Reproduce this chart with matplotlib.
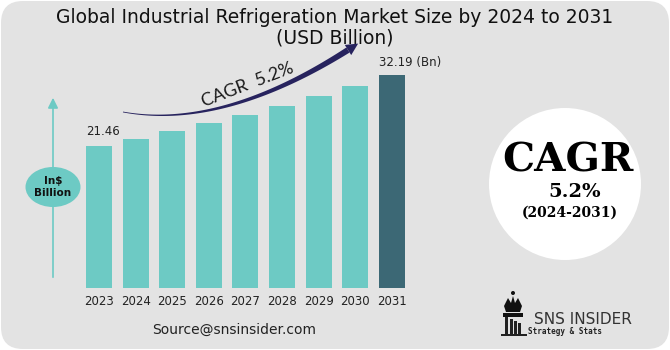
import numpy as np
import matplotlib
matplotlib.use("Agg")
import matplotlib.pyplot as plt
from matplotlib.patches import FancyBboxPatch, Circle, Ellipse, Polygon, Rectangle

# ---------------- data ----------------
years = ["2023", "2024", "2025", "2026", "2027", "2028", "2029", "2030", "2031"]
values = [21.46, 22.55, 23.76, 24.97, 26.23, 27.59, 29.06, 30.53, 32.19]
first_label = "21.46"
last_label = "32.19 (Bn)"
title = "Global Industrial Refrigeration Market Size by 2024 to 2031\n(USD Billion)"
cagr_text = "CAGR  5.2%"

W, H = 670, 350
fig = plt.figure(figsize=(W / 100, H / 100), dpi=100)
fig.patch.set_facecolor("white")

# background axes in pixel coordinates (y downwards)
bg = fig.add_axes([0, 0, 1, 1], zorder=0)
bg.set_xlim(0, W)
bg.set_ylim(H, 0)
bg.axis("off")
bg.add_patch(FancyBboxPatch((1, 1), W - 2, H - 2,
                            boxstyle="round,pad=0,rounding_size=22",
                            fc="#e3e3e3", ec="none"))

# ---------------- bars ----------------
step = 36.6
left_px = 99 - 0.5 * step
bottom_px = 288
ymax = 35
scale = 6.607
ax = fig.add_axes([left_px / W, (H - bottom_px) / H, 9 * step / W, ymax * scale / H], zorder=2)
ax.set_facecolor("none")
x = np.arange(len(years))
colors = ["#6dcac4"] * (len(years) - 1) + ["#3c6875"]
ax.bar(x, values, width=0.71, color=colors, edgecolor="none")
ax.set_xlim(-0.5, len(years) - 0.5)
ax.set_ylim(0, ymax)
for s in ax.spines.values():
    s.set_visible(False)
ax.set_yticks([])
ax.set_xticks(x)
ax.set_xticklabels(years, fontsize=8.5, color="#222222")
ax.tick_params(axis="x", length=0, pad=5)
ax.text(x[0] - 0.36, values[0] + 1.3, first_label, fontsize=8.5, color="#222222",
        ha="left", va="bottom")
ax.text(x[-1] - 0.36, values[-1] + 0.9, last_label, fontsize=8.5, color="#222222",
        ha="left", va="bottom")

# ---------------- title ----------------
bg.text(W / 2, 28, title, ha="center", va="center", fontsize=13.5,
        color="#111111", linespacing=1.1, fontfamily="DejaVu Sans")

# ---------------- tapered CAGR arrow ----------------
P0 = np.array([123.0, 112.0])
P1 = np.array([222.0, 130.0])
P2 = np.array([348.0, 50.0])
t = np.linspace(0, 1, 80)
pts = ((1 - t) ** 2)[:, None] * P0 + (2 * (1 - t) * t)[:, None] * P1 + (t ** 2)[:, None] * P2
d = np.gradient(pts, axis=0)
d /= np.linalg.norm(d, axis=1)[:, None]
nrm = np.stack([-d[:, 1], d[:, 0]], axis=1)
wdt = 0.4 + 2.6 * t ** 1.3
upper = pts + nrm * wdt[:, None]
lower = pts - nrm * wdt[:, None]
bg.add_patch(Polygon(np.vstack([upper, lower[::-1]]), closed=True,
                     fc="#27235e", ec="none", zorder=3))
tip_dir = d[-1]
tip_n = nrm[-1]
tip = P2 + tip_dir * 12
head = np.array([tip, P2 + tip_n * 6, P2 - tip_n * 6])
bg.add_patch(Polygon(head, closed=True, fc="#27235e", ec="none", zorder=3))
bg.text(248, 85, cagr_text, rotation=21, ha="center", va="center",
        fontsize=13, color="#1a1a1a", fontfamily="Lato", zorder=5)

# ---------------- left axis indicator ----------------
bg.annotate("", xy=(53, 95), xytext=(53, 280),
            arrowprops=dict(arrowstyle="-|>,head_length=0.6,head_width=0.3",
                            color="#6dcac4", lw=1.2))
bg.add_patch(Ellipse((53, 187), 55, 40, fc="#6dcac4", ec="none", zorder=3))
bg.text(53, 187, "In$\nBillion", ha="center", va="center", fontsize=7.5,
        fontweight="bold", color="#111111", linespacing=1.3, zorder=4)

# ---------------- CAGR circle ----------------
bg.add_patch(Circle((565, 184), 76, fc="white", ec="none", zorder=3))
bg.text(568, 160, "CAGR", ha="center", va="center", fontsize=29, fontweight="bold",
        fontfamily="DejaVu Serif", color="black", zorder=4)
bg.text(575, 192, "5.2%", ha="center", va="center", fontsize=14, fontweight="bold",
        fontfamily="DejaVu Serif", color="black", zorder=4)
bg.text(570, 213, "(2024-2031)", ha="center", va="center", fontsize=10, fontweight="bold",
        fontfamily="DejaVu Serif", color="black", zorder=4)

# ---------------- source ----------------
bg.text(234, 330, "Source@snsinsider.com", ha="center", va="center", fontsize=10,
        color="#222222")

# ---------------- logo ----------------
crown = np.array([[504, 306], [508, 298], [511, 303], [513, 296], [515, 303],
                  [518, 298], [522, 306], [520, 312], [506, 312]])
bg.add_patch(Polygon(crown, closed=True, fc="#111111", ec="none", zorder=3))
bg.add_patch(Circle((513, 293), 2, fc="#111111", ec="none", zorder=3))
bg.add_patch(Rectangle((503, 313), 20, 4, fc="#111111", ec="none", zorder=3))
for xx, hh in [(505, 18), (510, 16), (514, 14), (518, 12)]:
    bg.add_patch(Rectangle((xx, 335 - hh), 3, hh, fc="#222222", ec="none", zorder=3))
bg.add_patch(Rectangle((501, 334), 26, 1.5, fc="#222222", ec="none", zorder=3))
bg.text(534, 319, "SNS INSIDER", ha="left", va="center", fontsize=11,
        color="#333333", fontfamily="DejaVu Sans")
bg.text(528, 332, "Strategy & Stats", ha="left", va="center", fontsize=5.5,
        fontweight="bold", color="#222222", fontfamily="DejaVu Sans Mono")

fig.savefig("out.png", dpi=100, facecolor=fig.get_facecolor())
